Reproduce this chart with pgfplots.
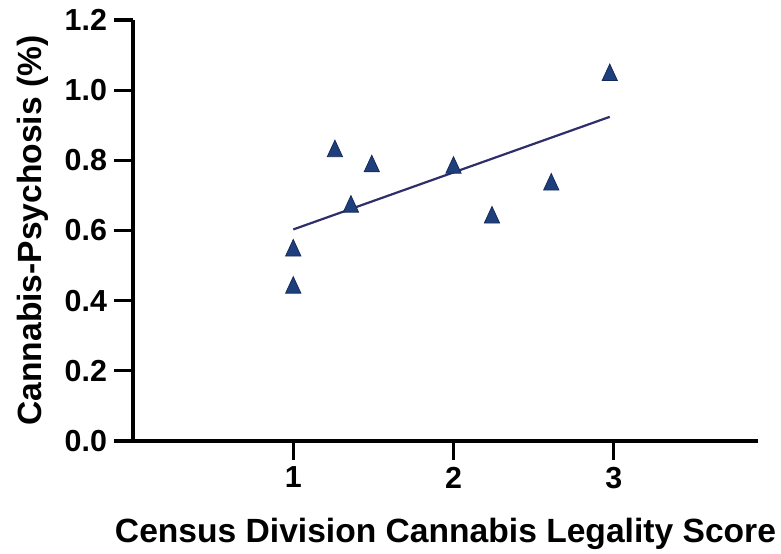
\documentclass[border=0pt]{standalone}
\usepackage{pgfplots}
\pgfplotsset{compat=1.18}
\usepackage{fontspec}
\setmainfont{Liberation Sans}
\definecolor{tri}{HTML}{1F3F7C}
\definecolor{triedge}{HTML}{142B5A}
\definecolor{fitline}{HTML}{2E2E6A}
\begin{document}
\begin{tikzpicture}
\useasboundingbox (-66.5pt,-56pt) rectangle (324pt,220.5pt);
\begin{axis}[
  scale only axis,
  width=312.5pt, height=210.5pt,
  xmin=0, xmax=3.9, ymin=0, ymax=1.2,
  axis x line*=bottom, axis y line*=left,
  axis line style={line width=2pt, -},
  xtick={1,2,3}, ytick={0,0.2,0.4,0.6,0.8,1.0,1.2},
  tick align=outside,
  major tick length=9.5pt,
  tick style={line width=1.6pt, black},
  every tick label/.append style={font=\fontsize{15.2}{18}\selectfont\bfseries},
  /pgf/number format/assume math mode=true,
  yticklabel style={/pgf/number format/.cd, fixed, fixed zerofill, precision=1},
  xticklabel style={/pgf/number format/.cd, fixed, precision=0},
  xlabel={Census Division Cannabis Legality Score},
  ylabel={Cannabis-Psychosis (\%)},
  label style={font=\fontsize{16.8}{20}\selectfont\bfseries},
  xlabel style={at={(axis description cs:0.5,-0.24)}, anchor=base},
  ylabel style={at={(axis description cs:-0.1456,0.5)}, anchor=base, rotate=0},
  clip=false,
]
\addplot[fitline, line width=1.1pt] coordinates {(1,0.603) (2.975,0.924)};
\addplot[only marks, mark=triangle*, mark size=4.4pt,
  mark options={fill=tri, draw=triedge, line width=0.4pt, yscale=1.25}]
  coordinates {
  (1.00,0.543) (1.00,0.437) (1.26,0.826) (1.36,0.668) (1.49,0.783)
  (2.00,0.779) (2.24,0.637) (2.61,0.731) (2.975,1.043)
  };
\end{axis}
\end{tikzpicture}
\end{document}
